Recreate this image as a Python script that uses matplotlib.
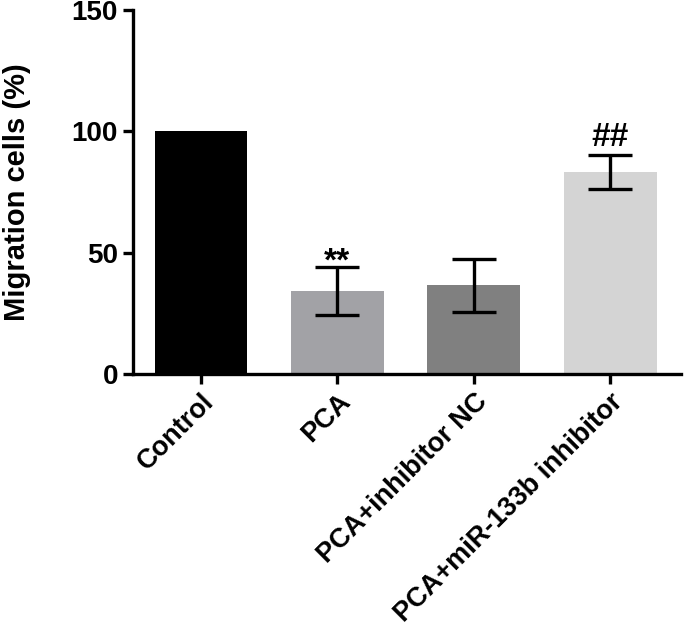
import matplotlib.pyplot as plt

plt.rcParams['font.family'] = ['Liberation Sans', 'DejaVu Sans']
plt.rcParams['font.weight'] = 'bold'

# Data
groups = ["Control", "PCA", "PCA+inhibitor NC", "PCA+miR-133b inhibitor"]
values = [100, 34.2, 36.6, 83.3]
errors = [0, 9.9, 10.9, 6.8]
marks = ["", "**", "", "##"]
colors = ["#000000", "#a2a2a6", "#808080", "#d4d4d4"]

fig = plt.figure(figsize=(6.84, 6.3), dpi=100)
ax = fig.add_axes([0.194, 0.406, 0.802, 0.578])

x = range(len(groups))
ax.bar(x, values, width=0.68, color=colors)
for i in x:
    if errors[i] > 0:
        ax.errorbar(i, values[i], yerr=errors[i], color='black', elinewidth=2.4,
                    capsize=16, capthick=2.4)
    if marks[i]:
        # asterisks sit high in the glyph box, hashes on the baseline
        off = -1.5 if marks[i].startswith('*') else 4
        ax.text(i, values[i] + errors[i] + off, marks[i], ha='center', va='baseline',
                fontsize=24, fontweight='bold')

ax.set_xlim(-0.5, 3.52)
ax.set_ylim(0, 150)
ax.set_yticks([0, 50, 100, 150])
ax.set_xticks(list(x))
ax.set_xticklabels(groups, rotation=45, ha='right', rotation_mode='anchor')
ax.set_ylabel("Migration cells (%)", fontsize=21, fontweight='bold')
ax.yaxis.set_label_coords(-0.185, 0.5)

for s in ['top', 'right']:
    ax.spines[s].set_visible(False)
for s in ['left', 'bottom']:
    ax.spines[s].set_linewidth(2.4)
ax.tick_params(width=2.4, length=7, labelsize=20)
ax.tick_params(axis='x', labelsize=19.5)
for lab in ax.get_xticklabels() + ax.get_yticklabels():
    lab.set_fontweight('bold')

plt.savefig("out.png", dpi=100)
